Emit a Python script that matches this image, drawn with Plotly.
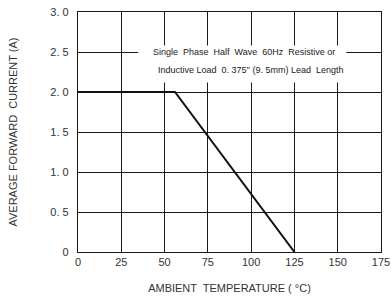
import plotly.graph_objects as go

# Data
temp_c = [0, 56, 125]
current_a = [2.0, 2.0, 0.0]
x_ticks = [0, 25, 50, 75, 100, 125, 150, 175]
y_ticks = [0, 0.5, 1.0, 1.5, 2.0, 2.5, 3.0]
y_tick_text = ["0", "0. 5", "1. 0", "1. 5", "2. 0", "2. 5", "3. 0"]
note_lines = ["Single  Phase  Half  Wave  60Hz  Resistive or",
              "Inductive Load  0. 375'' (9. 5mm) Lead  Length"]

GRID = "#1a1a1a"
TXT = "#333333"

fig = go.Figure()
fig.add_trace(go.Scatter(x=temp_c, y=current_a, mode="lines",
                         line=dict(color="#111111", width=2), showlegend=False,
                         hoverinfo="skip"))

# white box interrupting gridlines behind the note
fig.add_shape(type="rect", xref="x", yref="y", x0=34.8, x1=155, y0=2.12, y1=2.58,
              fillcolor="white", line=dict(width=0), layer="between")

fig.add_annotation(x=96, y=2.50, xref="x", yref="y", text=note_lines[0],
                   showarrow=False, font=dict(family="Liberation Sans Narrow, Arial Narrow, sans-serif",
                                              size=9, color="#222"))
fig.add_annotation(x=100, y=2.27, xref="x", yref="y", text=note_lines[1],
                   showarrow=False, font=dict(family="Liberation Sans Narrow, Arial Narrow, sans-serif",
                                              size=9, color="#222"))

fig.update_layout(
    width=391, height=301,
    margin=dict(l=77.5, r=10, t=11.5, b=49.3),
    paper_bgcolor="white", plot_bgcolor="white",
    font=dict(family="Liberation Sans, Arial, sans-serif", size=11, color=TXT),
    xaxis=dict(range=[0, 175], tickvals=x_ticks, ticktext=[str(v) for v in x_ticks],
               showgrid=True, gridcolor=GRID, gridwidth=1.3,
               showline=True, linecolor=GRID, linewidth=1.3, mirror=True,
               zeroline=False, ticks="", automargin=False, fixedrange=True,
               title=dict(text="AMBIENT  TEMPERATURE ( °C)", standoff=16,
                          font=dict(size=11, color=TXT))),
    yaxis=dict(range=[0, 3], tickvals=y_ticks, ticktext=y_tick_text,
               showgrid=True, gridcolor=GRID, gridwidth=1.3,
               showline=True, linecolor=GRID, linewidth=1.3, mirror=True,
               zeroline=False, ticks="", ticklabelstandoff=6, automargin=False, fixedrange=True,
               title=dict(text="AVERAGE FORWARD  CURRENT (A)", standoff=30,
                          font=dict(size=11, color=TXT))),
)

fig.write_html("out.html", config={"displayModeBar": False},
               post_script="document.body.style.margin='0px';document.body.style.overflow='hidden';")
